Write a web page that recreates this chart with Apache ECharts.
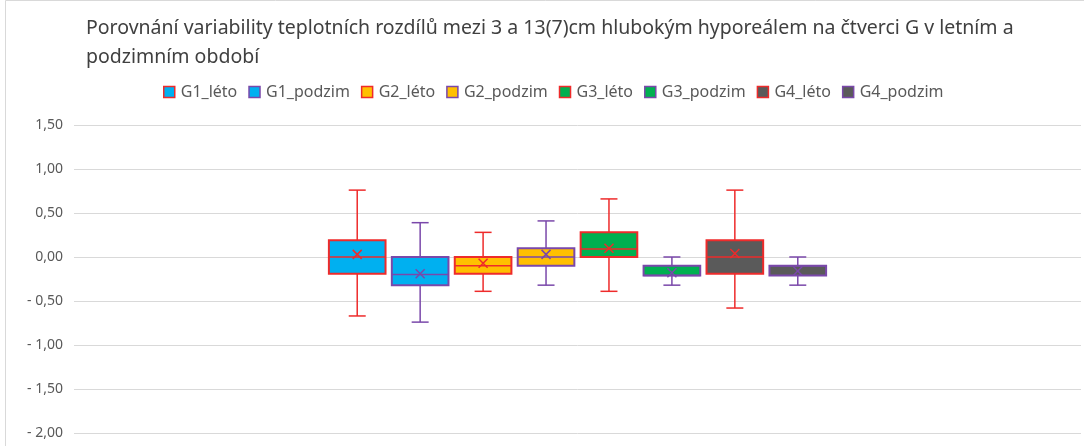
<!DOCTYPE html>
<html>
<head>
<meta charset="utf-8">
<script src="https://cdn.jsdelivr.net/npm/echarts@6/dist/echarts.min.js"></script>
<style>
  html, body { margin: 0; padding: 0; background: #ffffff; }
  #chart { width: 1084px; height: 446px; }
</style>
</head>
<body>
<div id="chart"></div>
<script>
// box statistics per series
const seriesNames = ["G1_léto", "G1_podzim", "G2_léto", "G2_podzim", "G3_léto", "G3_podzim", "G4_léto", "G4_podzim"];
const minValues = [-0.67, -0.74, -0.39, -0.32, -0.39, -0.32, -0.58, -0.32];
const q1Values = [-0.19, -0.32, -0.19, -0.10, 0.00, -0.21, -0.19, -0.21];
const medianValues = [0.00, -0.20, -0.10, 0.00, 0.09, -0.21, 0.00, -0.10];
const q3Values = [0.19, 0.00, 0.00, 0.10, 0.28, -0.10, 0.19, -0.10];
const maxValues = [0.76, 0.39, 0.28, 0.41, 0.66, 0.00, 0.76, 0.00];
const meanValues = [0.03, -0.19, -0.07, 0.03, 0.10, -0.18, 0.04, -0.16];

// y axis ticks
const yMin = -2.0;
const yMax = 1.5;
const yStep = 0.5;

const fillColors = ["#00b0f0", "#00b0f0", "#ffc000", "#ffc000", "#00b050", "#00b050", "#5a5a5a", "#5a5a5a"];
const lineColors = ["#ee2b2b", "#7a48aa", "#ee2b2b", "#7a48aa", "#ee2b2b", "#7a48aa", "#ee2b2b", "#7a48aa"];

const FONT = "Noto Sans";

function renderBox(params, api) {
  const idx = params.seriesIndex;
  const x = api.value(0);
  const pMax = api.coord([x, api.value(5)]);
  const pQ3 = api.coord([x, api.value(4)]);
  const pMed = api.coord([x, api.value(3)]);
  const pQ1 = api.coord([x, api.value(2)]);
  const pMin = api.coord([x, api.value(1)]);
  const pMean = api.coord([x, api.value(6)]);
  const boxW = api.size([0.9, 0])[0];
  const capW = api.size([0.27, 0])[0];
  const cx = pMed[0];
  const stroke = lineColors[idx];
  const lineStyle = { stroke: stroke, lineWidth: 1.5 };
  const m = 4.5;
  return {
    type: "group",
    children: [
      { type: "line", shape: { x1: cx, y1: pQ3[1], x2: cx, y2: pMax[1] }, style: lineStyle },
      { type: "line", shape: { x1: cx - capW / 2, y1: pMax[1], x2: cx + capW / 2, y2: pMax[1] }, style: lineStyle },
      { type: "line", shape: { x1: cx, y1: pQ1[1], x2: cx, y2: pMin[1] }, style: lineStyle },
      { type: "line", shape: { x1: cx - capW / 2, y1: pMin[1], x2: cx + capW / 2, y2: pMin[1] }, style: lineStyle },
      {
        type: "rect",
        shape: { x: cx - boxW / 2, y: pQ3[1], width: boxW, height: pQ1[1] - pQ3[1] },
        style: { fill: fillColors[idx], stroke: stroke, lineWidth: 2 },
      },
      { type: "line", shape: { x1: cx - boxW / 2, y1: pMed[1], x2: cx + boxW / 2, y2: pMed[1] }, style: lineStyle },
      { type: "line", shape: { x1: pMean[0] - m, y1: pMean[1] - m, x2: pMean[0] + m, y2: pMean[1] + m }, style: lineStyle },
      { type: "line", shape: { x1: pMean[0] - m, y1: pMean[1] + m, x2: pMean[0] + m, y2: pMean[1] - m }, style: lineStyle },
    ],
  };
}

const chart = echarts.init(document.getElementById("chart"));

const option = {
  backgroundColor: "#ffffff",
  animation: false,
  graphic: [
    {
      type: "rect",
      silent: true,
      shape: { x: 5.5, y: 0.5, width: 1200, height: 600 },
      style: { fill: "none", stroke: "#d9d9d9", lineWidth: 1 },
    },
  ],
  title: {
    text: "Porovnání variability teplotních rozdílů mezi 3 a 13(7)cm hlubokým hyporeálem na čtverci G v letním a\npodzimním období",
    left: 81,
    top: 9,
    textStyle: {
      fontFamily: FONT,
      fontSize: 19.5,
      fontWeight: "normal",
      color: "#404040",
      lineHeight: 29,
    },
  },
  legend: {
    top: 79,
    left: 158,
    icon: "rect",
    itemWidth: 11,
    itemHeight: 11,
    itemGap: 11,
    textStyle: { fontFamily: FONT, fontSize: 16, color: "#595959", padding: [0, 0, 0, 1] },
    data: seriesNames.map((name, i) => ({
      name: name,
      itemStyle: { color: fillColors[i], borderColor: lineColors[i], borderWidth: 1.5 },
    })),
  },
  grid: { left: 74, right: 3, top: 125, bottom: 13, containLabel: false },
  xAxis: {
    type: "value",
    min: -4.5,
    max: 11.5,
    show: false,
  },
  yAxis: {
    type: "value",
    min: yMin,
    max: yMax,
    interval: yStep,
    axisLine: { show: false },
    axisTick: { show: false },
    splitLine: { lineStyle: { color: "#d9d9d9", width: 1 } },
    axisLabel: {
      fontFamily: FONT,
      fontSize: 14,
      color: "#595959",
      margin: 11,
      formatter: (v) => (v < 0 ? "- " : "") + Math.abs(v).toFixed(2).replace(".", ","),
    },
  },
  series: seriesNames.map((name, i) => ({
    name: name,
    type: "custom",
    renderItem: renderBox,
    itemStyle: { color: fillColors[i], borderColor: lineColors[i] },
    encode: { x: 0, y: [1, 2, 3, 4, 5, 6] },
    data: [[i, minValues[i], q1Values[i], medianValues[i], q3Values[i], maxValues[i], meanValues[i]]],
  })),
};

chart.setOption(option);
</script>
</body>
</html>
